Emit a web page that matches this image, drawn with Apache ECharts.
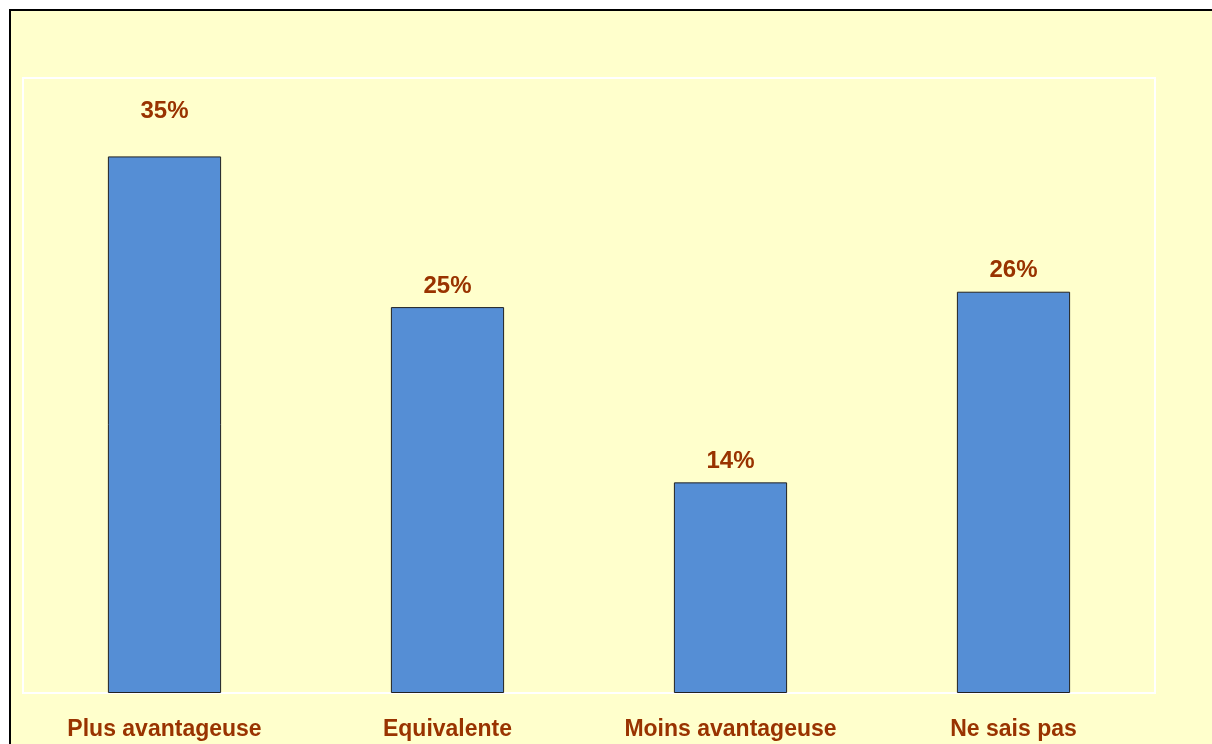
<!DOCTYPE html>
<html><head><meta charset="utf-8">
<script src="https://cdn.jsdelivr.net/npm/echarts@6/dist/echarts.min.js"></script>
<style>html,body{margin:0;padding:0;background:#fff;}#c{width:1212px;height:744px;}</style>
</head><body><div id="c"></div>
<script>
const categories = ['Plus avantageuse', 'Equivalente', 'Moins avantageuse', 'Ne sais pas'];
const values = [34.9, 25.1, 13.7, 26.1];
const labelGaps = [33, 9, 9, 9];

const chart = echarts.init(document.getElementById('c'));
chart.setOption({
  backgroundColor: '#ffffff',
  animation: false,
  graphic: [{
    type: 'rect', z: -10, silent: true,
    shape: { x: 10, y: 10, width: 1400, height: 900 },
    style: { fill: '#FFFFCC', stroke: '#000000', lineWidth: 2 }
  }],
  grid: { left: 23, right: 57, top: 78, bottom: 51, show: true, borderColor: '#ffffff', borderWidth: 2, backgroundColor: 'transparent' },
  xAxis: {
    type: 'category', data: categories,
    axisLine: { show: false }, axisTick: { show: false },
    axisLabel: { color: '#993300', fontFamily: 'Liberation Sans, Arial', fontWeight: 'bold', fontSize: 23, margin: 25 }
  },
  yAxis: { type: 'value', min: 0, max: 40, show: false, splitLine: { show: false } },
  series: [{
    type: 'bar', barWidth: '40%',
    data: values.map((v, i) => ({ value: v, label: { distance: labelGaps[i] } })),
    itemStyle: { color: '#558ED5', borderColor: '#222222', borderWidth: 1 },
    label: { show: true, position: 'top', color: '#993300', fontFamily: 'Liberation Sans, Arial', fontWeight: 'bold', fontSize: 24,
      formatter: p => Math.round(p.value) + '%' }
  }]
});
</script></body></html>
